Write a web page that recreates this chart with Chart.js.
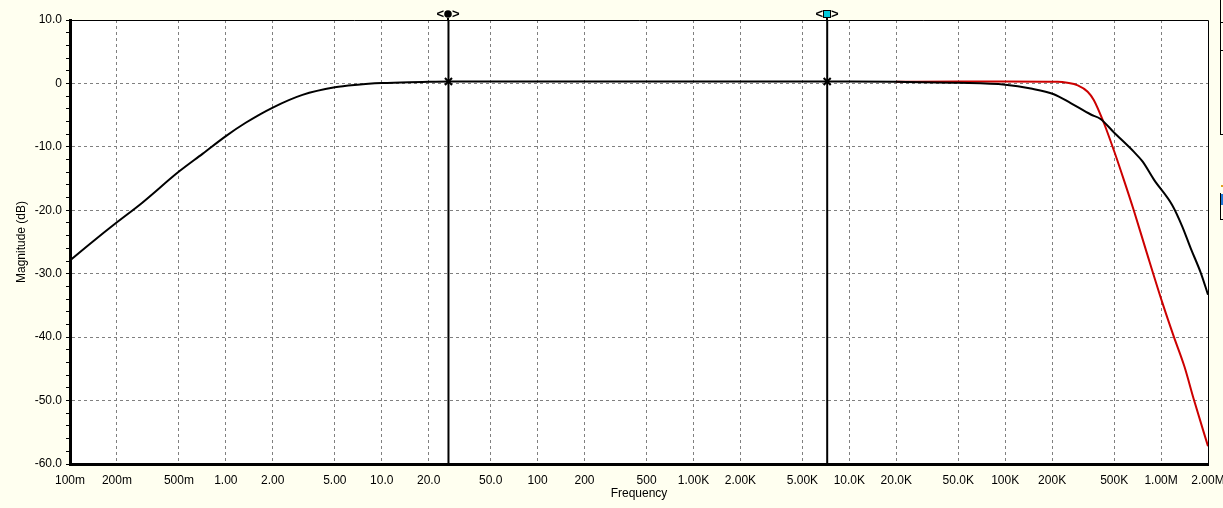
<!DOCTYPE html>
<html>
<head>
<meta charset="utf-8">
<script src="https://cdn.jsdelivr.net/npm/chart.js@4/dist/chart.umd.min.js"></script>
<style>
  html, body { margin: 0; padding: 0; background: #fffff0; }
</style>
</head>
<body>
<canvas id="bode" width="1223" height="508"></canvas>
<script>
// values (Hz, dB)
const freqBlack = [0.1, 0.139, 0.2, 0.291, 0.5, 0.708, 1, 1.34, 2, 3.1, 5, 7, 10, 15, 20, 27, 50, 100, 1000, 10000, 20000, 50000,
  100000, 146000, 205000, 263000, 354000, 409000, 497000, 670000, 760000, 902000, 1180000, 1370000, 1550000, 1800000, 2000000];
const magBlack = [-27.9, -25.0, -21.9, -18.8, -13.9, -11.1, -8.3, -6.2, -3.8, -1.8, -0.6, -0.2, 0.05, 0.2, 0.25, 0.3, 0.3, 0.3, 0.3, 0.3, 0.25, 0.1,
  -0.2, -0.8, -1.7, -3.1, -4.9, -5.6, -7.7, -10.8, -12.3, -15.2, -19.2, -22.6, -26.0, -29.9, -33.3];

const freqRed = [20000, 50000, 100000, 217000, 250000, 292000, 338000, 370000, 429000, 497000, 577000, 668000, 798000, 1020000, 1210000, 1410000, 1630000, 2000000];
const magRed = [0.25, 0.3, 0.3, 0.25, 0.1, -0.3, -1.3, -2.6, -6.2, -10.5, -15.2, -20.0, -26.2, -34.6, -40.0, -44.6, -50.0, -57.2];

const cursorFreqs = [26.8, 7210];
const cursorMags = [0.3, 0.3];

const xTickValues = [0.1, 0.2, 0.5, 1, 2, 5, 10, 20, 50, 100, 200, 500, 1000, 2000, 5000, 10000, 20000, 50000, 100000, 200000, 500000, 1000000, 2000000];
const xTickLabels = ['100m', '200m', '500m', '1.00', '2.00', '5.00', '10.0', '20.0', '50.0', '100', '200', '500', '1.00K', '2.00K', '5.00K',
  '10.0K', '20.0K', '50.0K', '100K', '200K', '500K', '1.00M', '2.00M'];
const yMajorValues = [10, 0, -10, -20, -30, -40, -50, -60];
const yMajorLabels = ['10.0', '0', '-10.0', '-20.0', '-30.0', '-40.0', '-50.0', '-60.0'];

const FONT = "'Liberation Sans', Arial, sans-serif";

const toPoints = (xs, ys) => xs.map((x, i) => ({ x: x, y: ys[i] }));

const datasets = [
    { data: toPoints(freqBlack, magBlack), borderColor: '#000', borderWidth: 2, pointRadius: 0, cubicInterpolationMode: 'monotone' },
    { data: toPoints(freqRed, magRed), borderColor: '#cc0000', borderWidth: 2, pointRadius: 0, cubicInterpolationMode: 'monotone' }
];
cursorFreqs.forEach((f, i) => {
    datasets.push({ data: [{ x: f, y: -60 }, { x: f, y: 10 }], borderColor: '#000', borderWidth: 2, pointRadius: 0 });
    datasets.push({ data: [{ x: f, y: cursorMags[i] }], showLine: false, pointStyle: 'crossRot', pointRadius: 5,
        borderColor: '#000', borderWidth: 2 });
});

// cream page, white plot, frame, cursor tags, bit of the side panel
const framePlugin = {
    id: 'frame',
    beforeDraw(chart) {
        const { ctx, chartArea: a } = chart;
        ctx.save();
        ctx.fillStyle = '#fffff0';
        ctx.fillRect(0, 0, chart.width, chart.height);
        ctx.fillStyle = '#ffffff';
        ctx.fillRect(a.left, a.top, a.right - a.left, a.bottom - a.top);
        ctx.restore();
    },
    afterDraw(chart) {
        const { ctx, chartArea: a } = chart;
        const xs = chart.scales.x;
        ctx.save();
        ctx.strokeStyle = '#000';
        ctx.lineWidth = 1;
        ctx.beginPath();
        ctx.moveTo(a.left, a.top + 0.5);
        ctx.lineTo(a.right + 0.5, a.top + 0.5);
        ctx.lineTo(a.right + 0.5, a.bottom);
        ctx.stroke();

        // cursor tags
        cursorFreqs.forEach((f, i) => {
            const px = Math.round(xs.getPixelForValue(f));
            ctx.fillStyle = '#000';
            ctx.font = 'bold 13px ' + FONT;
            ctx.textBaseline = 'middle';
            ctx.textAlign = 'right';
            ctx.fillText('<', px - 4, 14);
            ctx.textAlign = 'left';
            ctx.fillText('>', px + 4, 14);
            ctx.beginPath();
            ctx.moveTo(px, 18);
            ctx.lineTo(px, a.top);
            ctx.lineWidth = 2;
            ctx.stroke();
            if (i === 0) {
                ctx.beginPath();
                ctx.arc(px, 14, 3.8, 0, Math.PI * 2);
                ctx.fill();
            } else {
                ctx.fillStyle = '#00c8d8';
                ctx.fillRect(px - 3, 11, 6, 6);
                ctx.lineWidth = 1;
                ctx.strokeRect(px - 3.5, 10.5, 7, 7);
            }
        });

        // edge of the neighbouring panel
        ctx.lineWidth = 1;
        ctx.strokeStyle = '#000';
        ctx.beginPath();
        ctx.moveTo(1220.5, 0); ctx.lineTo(1220.5, 135);
        ctx.moveTo(1220.5, 22.5); ctx.lineTo(1223, 22.5);
        ctx.moveTo(1220.5, 50.5); ctx.lineTo(1223, 50.5);
        ctx.moveTo(1220.5, 134.5); ctx.lineTo(1223, 134.5);
        ctx.moveTo(1220.5, 193); ctx.lineTo(1220.5, 220);
        ctx.moveTo(1220.5, 219.5); ctx.lineTo(1223, 219.5);
        ctx.stroke();
        ctx.fillStyle = '#1e78d8';
        ctx.fillRect(1221, 194, 2, 11);
        ctx.fillStyle = '#e0a020';
        ctx.fillRect(1221, 185, 2, 2);
        ctx.restore();
    }
};

new Chart(document.getElementById('bode'), {
    type: 'line',
    data: { datasets: datasets },
    options: {
        responsive: false,
        animation: false,
        events: [],
        layout: { padding: { top: 20, right: 15, left: 0, bottom: 0 } },
        plugins: { legend: { display: false }, tooltip: { enabled: false } },
        scales: {
            x: {
                type: 'logarithmic',
                min: 0.1,
                max: 2000000,
                afterBuildTicks(scale) { scale.ticks = xTickValues.map(v => ({ value: v })); },
                afterFit(scale) { scale.height = 44; scale.paddingLeft = 0; scale.paddingRight = 0; },
                ticks: {
                    autoSkip: false, maxRotation: 0, padding: 9, color: '#000',
                    font: { family: FONT, size: 12 },
                    callback: (v, i) => xTickLabels[i]
                },
                grid: {
                    drawTicks: false,
                    color: ctx => (ctx.index === 0 || ctx.index === xTickValues.length - 1) ? 'rgba(0,0,0,0)' : '#808080',
                    lineWidth: 1
                },
                border: { display: true, color: '#000', width: 3, dash: [3, 3] },
                title: { display: true, text: 'Frequency', color: '#000', font: { family: FONT, size: 12 }, padding: { top: 0, bottom: 7 } }
            },
            y: {
                min: -60,
                max: 10,
                afterBuildTicks(scale) {
                    const t = [];
                    for (let v = -60; v <= 10; v += 2) t.push({ value: v });
                    scale.ticks = t;
                },
                afterFit(scale) { scale.width = 70; },
                ticks: {
                    autoSkip: false, padding: 4, color: '#000',
                    font: { family: FONT, size: 12 },
                    callback: v => {
                        const k = yMajorValues.indexOf(v);
                        return k >= 0 ? yMajorLabels[k] : '';
                    }
                },
                grid: {
                    drawTicks: true,
                    tickLength: 4,
                    tickColor: '#000',
                    color: ctx => {
                        const v = ctx.tick ? ctx.tick.value : null;
                        return (v !== null && v % 10 === 0 && v !== 10 && v !== -60) ? '#808080' : 'rgba(0,0,0,0)';
                    },
                    lineWidth: 1
                },
                border: { display: true, color: '#000', width: 3, dash: [3, 3] },
                title: { display: true, text: 'Magnitude (dB)', color: '#000', font: { family: FONT, size: 12 }, padding: { top: 14, bottom: 0 } }
            }
        }
    },
    plugins: [framePlugin]
});
</script>
</body>
</html>
